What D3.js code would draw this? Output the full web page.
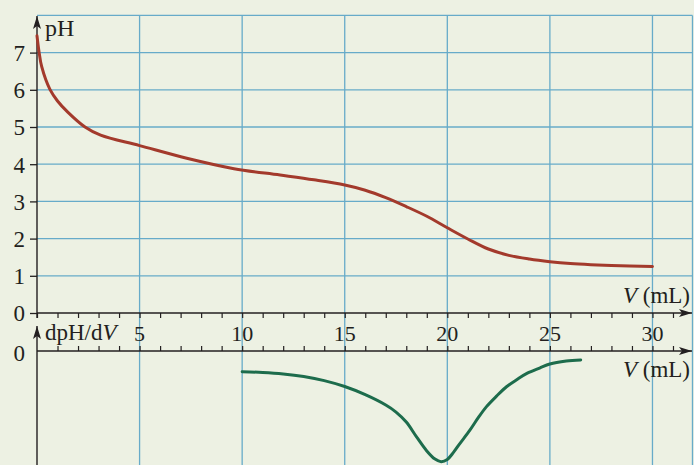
<!DOCTYPE html>
<html><head><meta charset="utf-8">
<script src="https://cdn.jsdelivr.net/npm/d3@7/dist/d3.min.js"></script>
<style>
html,body{margin:0;padding:0;background:#edf1e3;}
svg{display:block;}
</style></head>
<body>
<script>
// ---- data ----
const volTicks = [5, 10, 15, 20, 25, 30];
const phTicks = [0, 1, 2, 3, 4, 5, 6, 7];
const phVol = [0, 0.1, 0.23, 0.63, 1.0, 1.5, 2.34, 3.1, 5, 7.3, 9.6, 11.85, 13.5, 15, 16, 17, 18, 19, 20, 21, 22, 23, 24, 25, 26, 27, 28, 30];
const phVal = [7.45, 7.02, 6.62, 6.01, 5.7, 5.4, 5.0, 4.78, 4.5, 4.16, 3.88, 3.71, 3.58, 3.44, 3.30, 3.10, 2.86, 2.60, 2.29, 1.99, 1.72, 1.55, 1.45, 1.38, 1.33, 1.30, 1.28, 1.25];
const dVol = [10, 11, 12, 13, 14, 15, 16, 17, 17.5, 18, 18.5, 19, 19.4, 19.7, 20, 20.3, 20.6, 21.1, 21.5, 21.9, 22.4, 22.9, 23.4, 23.9, 24.5, 25, 25.8, 26.5];
const dVal = [-0.056, -0.058, -0.062, -0.069, -0.080, -0.096, -0.118, -0.146, -0.165, -0.192, -0.232, -0.270, -0.292, -0.299, -0.293, -0.274, -0.251, -0.214, -0.181, -0.151, -0.122, -0.096, -0.077, -0.060, -0.046, -0.035, -0.027, -0.024];

const W = 694, H = 465;
const FONT = "'Liberation Serif', 'Times New Roman', Times";
const svg = d3.select("body").append("svg").attr("width", W).attr("height", H);
svg.append("rect").attr("width", W).attr("height", H).attr("fill", "#edf1e3");

const x = d3.scaleLinear().domain([0, 32]).range([37, 693.5]);
const yTop = d3.scaleLinear().domain([0, 8]).range([313, 15.4]);
const yBot = d3.scaleLinear().domain([0, -0.3]).range([351, 462]);

const gridColor = "#67abc9", axisColor = "#231f20";
const xEnd = x(31.95);

// grid
const grid = svg.append("g").attr("stroke", gridColor).attr("stroke-width", 1.3);
d3.range(1, 9).forEach(p => {
  grid.append("line").attr("x1", x(0)).attr("x2", xEnd).attr("y1", yTop(p)).attr("y2", yTop(p));
});
volTicks.concat([31.95]).forEach(v => {
  grid.append("line").attr("x1", x(v)).attr("x2", x(v)).attr("y1", yTop(8)).attr("y2", H);
});

// arrow marker
const defs = svg.append("defs");
defs.append("marker").attr("id", "arr").attr("viewBox", "0 0 13 8").attr("refX", 13).attr("refY", 4)
  .attr("markerWidth", 13).attr("markerHeight", 8).attr("markerUnits", "userSpaceOnUse").attr("orient", "auto")
  .append("path").attr("d", "M0,0 L13,4 L0,8 L3,4 Z").attr("fill", axisColor);

// top x axis (ticks down)
const axTop = svg.append("g").attr("transform", `translate(0,${yTop(0)})`)
  .call(d3.axisBottom(x).tickValues(d3.range(0, 32)).tickSize(5).tickSizeOuter(0).tickFormat(""));
axTop.select(".domain").remove();
axTop.selectAll("line").attr("stroke", axisColor).attr("stroke-width", 1.2);
svg.append("line").attr("x1", x(0)).attr("x2", 692).attr("y1", yTop(0)).attr("y2", yTop(0))
  .attr("stroke", axisColor).attr("stroke-width", 1.4).attr("marker-end", "url(#arr)");

// bottom x axis (ticks up)
const axBot = svg.append("g").attr("transform", `translate(0,${yBot(0)})`)
  .call(d3.axisTop(x).tickValues(d3.range(1, 32)).tickSize(5).tickSizeOuter(0).tickFormat(""));
axBot.select(".domain").remove();
axBot.selectAll("line").attr("stroke", axisColor).attr("stroke-width", 1.2);
svg.append("line").attr("x1", x(0)).attr("x2", 692).attr("y1", yBot(0)).attr("y2", yBot(0))
  .attr("stroke", axisColor).attr("stroke-width", 1.4).attr("marker-end", "url(#arr)");

// volume tick labels between axes
svg.append("g").selectAll("text").data(volTicks).join("text")
  .attr("x", d => x(d)).attr("y", 341).attr("text-anchor", "middle")
  .attr("font-size", 22).style("font-family", FONT).attr("fill", axisColor).text(d => d);

// top y axis
const ayTop = svg.append("g").attr("transform", `translate(${x(0)},0)`)
  .call(d3.axisLeft(yTop).tickValues(phTicks).tickSize(7).tickPadding(5).tickFormat(d3.format("d")));
ayTop.select(".domain").remove();
ayTop.selectAll("line").attr("stroke", axisColor).attr("stroke-width", 1.3);
ayTop.selectAll("text").attr("font-size", 23).style("font-family", FONT).attr("fill", axisColor).attr("dy", "0.34em");
svg.append("line").attr("x1", x(0)).attr("x2", x(0)).attr("y1", yTop(0) + 5).attr("y2", 16)
  .attr("stroke", axisColor).attr("stroke-width", 1.4).attr("marker-end", "url(#arr)");

// bottom y axis
svg.append("line").attr("x1", x(0)).attr("x2", x(0)).attr("y1", H).attr("y2", 326)
  .attr("stroke", axisColor).attr("stroke-width", 1.4).attr("marker-end", "url(#arr)");
svg.append("text").attr("x", 25).attr("y", yBot(0) + 2).attr("dy", "0.34em").attr("text-anchor", "end")
  .attr("font-size", 23).style("font-family", FONT).attr("fill", axisColor).text("0");

// axis titles
svg.append("text").attr("x", 45).attr("y", 36).attr("font-size", 24).style("font-family", FONT).attr("fill", axisColor).text("pH");
const dt = svg.append("text").attr("x", 45).attr("y", 340).attr("font-size", 23).style("font-family", FONT).attr("fill", axisColor);
dt.append("tspan").text("dpH/d");
dt.append("tspan").attr("font-style", "italic").text("V");
[302.5, 376.5].forEach(yy => {
  const t = svg.append("text").attr("x", 690).attr("y", yy).attr("text-anchor", "end").attr("font-size", 23)
    .style("font-family", FONT).attr("fill", axisColor);
  t.append("tspan").attr("font-style", "italic").text("V");
  t.append("tspan").text(" (mL)");
});

// curves
const phData = phVol.map((v, i) => [v, phVal[i]]);
const dData = dVol.map((v, i) => [v, dVal[i]]);
svg.append("path").datum(phData)
  .attr("d", d3.line().x(d => x(d[0])).y(d => yTop(d[1])).curve(d3.curveCatmullRom.alpha(0.5)))
  .attr("fill", "none").attr("stroke", "#a33a2c").attr("stroke-width", 3).attr("stroke-linecap", "round");
svg.append("path").datum(dData)
  .attr("d", d3.line().x(d => x(d[0])).y(d => yBot(d[1])).curve(d3.curveCatmullRom.alpha(0.5)))
  .attr("fill", "none").attr("stroke", "#1d6c4c").attr("stroke-width", 3).attr("stroke-linecap", "round");
</script>
</body></html>
